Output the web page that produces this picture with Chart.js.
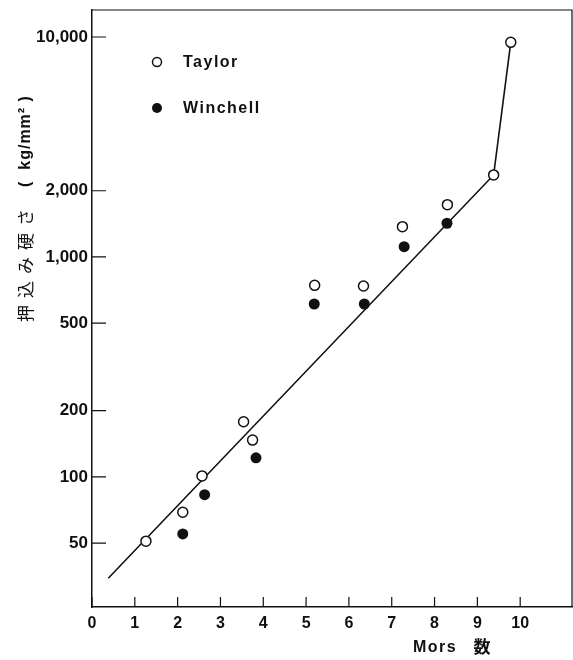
<!DOCTYPE html>
<html>
<head>
<meta charset="utf-8">
<script src="https://cdn.jsdelivr.net/npm/chart.js@4"></script>
<style>
  body { margin: 0; background: #fff; }
  canvas { display: block; }
</style>
</head>
<body>
<canvas id="hardnessChart" width="573" height="660"></canvas>
<script>
// Mohs number vs. indentation hardness (kg/mm2)
const taylorX = [1.26, 2.12, 2.57, 3.54, 3.75, 5.20, 6.34, 7.25, 8.30, 9.38, 9.78];
const taylorY = [51, 69, 101, 178, 147, 743, 738, 1373, 1729, 2360, 9460];
const winchellX = [2.12, 2.63, 3.83, 5.19, 6.36, 7.29, 8.29];
const winchellY = [55, 83, 122, 611, 611, 1114, 1423];
const lineX = [0.38, 9.38, 9.78];
const lineY = [34.6, 2360, 9460];
const xTicks = [0, 1, 2, 3, 4, 5, 6, 7, 8, 9, 10];
const yTicks = [50, 100, 200, 500, 1000, 2000, 10000];

const ink = '#111';
const labelFont = 'Liberation Sans, Arial, sans-serif';

function toPoints(xs, ys) {
    return xs.map((x, i) => ({ x: x, y: ys[i] }));
}

// frame, inward ticks, legend and axis titles
const extras = {
    id: 'extras',
    afterDraw(chart) {
        const { ctx, chartArea: a, scales } = chart;
        const x = scales.x, y = scales.y;
        ctx.save();
        ctx.strokeStyle = ink;
        ctx.lineWidth = 1.2;
        ctx.beginPath();
        ctx.moveTo(a.left, a.top);
        ctx.lineTo(a.right, a.top);
        ctx.lineTo(a.right, a.bottom);
        xTicks.forEach(v => {
            const px = x.getPixelForValue(v);
            ctx.moveTo(px, a.bottom);
            ctx.lineTo(px, a.bottom - 10);
        });
        yTicks.forEach(v => {
            const py = y.getPixelForValue(v);
            ctx.moveTo(a.left, py);
            ctx.lineTo(a.left + 14, py);
        });
        ctx.stroke();

        // legend
        ctx.lineWidth = 1.5;
        ctx.fillStyle = '#fff';
        ctx.beginPath();
        ctx.arc(157, 62, 4.5, 0, Math.PI * 2);
        ctx.fill();
        ctx.stroke();
        ctx.fillStyle = ink;
        ctx.beginPath();
        ctx.arc(157, 108, 5, 0, Math.PI * 2);
        ctx.fill();
        ctx.font = 'bold 16px ' + labelFont;
        ctx.letterSpacing = '1.5px';
        ctx.textBaseline = 'middle';
        ctx.textAlign = 'left';
        ctx.fillText('Taylor', 183, 63);
        ctx.fillText('Winchell', 183, 109);

        // x title
        ctx.fillText('Mors', 413, 648);
        ctx.letterSpacing = '0px';
        ctx.textAlign = 'center';
        ctx.font = 'bold 17px "Noto Sans CJK JP"';
        ctx.fillText('数', 482, 647);

        // y title (rotated)
        ctx.translate(26, 0);
        ctx.rotate(-Math.PI / 2);
        ctx.font = '17px "Noto Sans CJK JP"';
        ctx.letterSpacing = '7px';
        ctx.fillText('押込み硬さ', -262, 0);
        ctx.letterSpacing = '1px';
        ctx.font = 'bold 16px ' + labelFont;
        ctx.fillText('(  kg/mm² )', -141, 0);
        ctx.restore();
    }
};

const data = {
    datasets: [{
        label: 'Taylor',
        type: 'scatter',
        data: toPoints(taylorX, taylorY),
        pointRadius: 5,
        pointBackgroundColor: '#fff',
        pointBorderColor: ink,
        pointBorderWidth: 1.5,
        order: 1
    }, {
        label: 'Winchell',
        type: 'scatter',
        data: toPoints(winchellX, winchellY),
        pointRadius: 5.5,
        pointBackgroundColor: ink,
        pointBorderColor: ink,
        pointBorderWidth: 0,
        order: 2
    }, {
        label: 'trend',
        type: 'line',
        data: toPoints(lineX, lineY),
        borderColor: ink,
        borderWidth: 1.6,
        pointRadius: 0,
        fill: false,
        tension: 0,
        order: 3
    }]
};

const options = {
    responsive: false,
    animation: false,
    layout: {
        autoPadding: false,
        padding: { top: 10, right: 1, left: 0, bottom: 0 }
    },
    plugins: {
        legend: { display: false },
        tooltip: { enabled: false }
    },
    scales: {
        x: {
            type: 'linear',
            min: 0,
            max: 11.21,
            afterBuildTicks: scale => { scale.ticks = xTicks.map(v => ({ value: v })); },
            afterFit: scale => {
                scale.height = 53;
                scale.paddingLeft = 0;
                scale.paddingRight = 0;
            },
            grid: { display: false, drawTicks: false },
            border: { display: true, color: ink, width: 1.5 },
            ticks: {
                color: ink,
                padding: 7,
                maxRotation: 0,
                autoSkip: false,
                font: { family: labelFont, size: 16, weight: 'bold' }
            }
        },
        y: {
            type: 'logarithmic',
            min: 25.6,
            max: 13270,
            afterBuildTicks: scale => { scale.ticks = yTicks.map(v => ({ value: v })); },
            afterFit: scale => {
                scale.width = 92;
                scale.paddingTop = 0;
                scale.paddingBottom = 0;
            },
            grid: { display: false, drawTicks: false },
            border: { display: true, color: ink, width: 1.5 },
            ticks: {
                color: ink,
                padding: 4,
                autoSkip: false,
                callback: v => v.toLocaleString('en-US'),
                font: { family: labelFont, size: 17, weight: 'bold' }
            }
        }
    }
};

const ctx = document.getElementById('hardnessChart').getContext('2d');
const hardnessChart = new Chart(ctx, {
    type: 'scatter',
    data: data,
    options: options,
    plugins: [extras]
});
</script>
</body>
</html>
